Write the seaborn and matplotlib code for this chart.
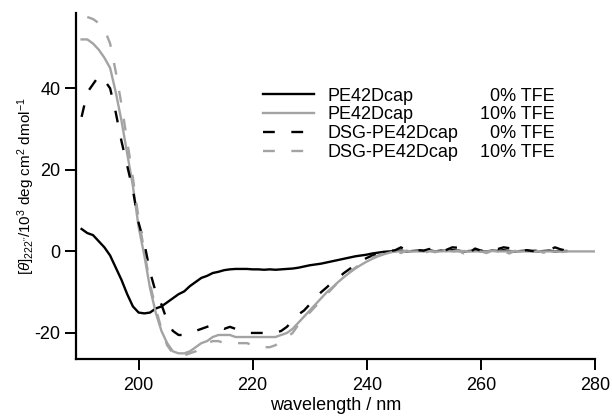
import numpy as np
import pandas as pd
import matplotlib
matplotlib.use("Agg")
import matplotlib.pyplot as plt
import seaborn as sns

# wavelength grid, 1 nm steps
wavelength = list(range(190, 281))

# PE42Dcap, 0% TFE
pe_0 = [5.5, 4.5, 4.0, 2.5, 1.0, -1.0, -4.0, -7.0, -10.5, -13.5,
        -15.0, -15.2, -15.0, -14.0, -13.5, -12.5, -11.5, -10.5, -9.8, -8.5,
        -7.5, -6.5, -6.0, -5.3, -5.0, -4.6, -4.4, -4.3, -4.3, -4.3,
        -4.4, -4.4, -4.5, -4.4, -4.5, -4.4, -4.3, -4.2, -4.0, -3.7,
        -3.4, -3.2, -3.0, -2.7, -2.4, -2.1, -1.8, -1.5, -1.2, -1.0,
        -0.8, -0.5, -0.3, -0.1, 0.0, 0.1, 0.2, 0.0, 0.1, 0.2,
        0.1, 0.3, 0.0, 0.2, 0.1, 0.3, 0.2, 0.0, 0.1, 0.2,
        0.1, 0.0, 0.2, 0.1, 0.3, 0.1, 0.0, 0.1, 0.2, 0.1,
        0.0, 0.1, 0.2, 0.0, 0.1, 0.1, np.nan, np.nan, np.nan, np.nan, np.nan]

# PE42Dcap, 10% TFE
pe_10 = [52, 52, 51, 49.5, 47.5, 45, 39, 32, 24, 16,
         6, -1, -9, -15, -19.5, -22.5, -24.5, -25, -25, -24.5,
         -23.5, -22.5, -22, -21, -20.5, -20.5, -20.5, -21, -21, -21,
         -21, -21, -21, -21, -21, -20.5, -20, -19, -17.5, -16,
         -14.5, -13, -11.5, -10, -8.8, -7.5, -6.3, -5.2, -4.2, -3.3,
         -2.5, -1.8, -1.2, -0.7, -0.3, 0.0, 0.0, 0.1, 0.0, 0.0,
         0.0, 0.1, 0.0, 0.0, 0.1, 0.0, 0.0, 0.1, 0.0, 0.0,
         0.0, 0.0, 0.1, 0.0, 0.0, 0.0, 0.1, 0.0, 0.0, 0.0,
         0.0, 0.0, 0.0, 0.0, 0.0, 0.0, 0.0, 0.0, 0.0, 0.0, 0.0]

# DSG-PE42Dcap, 0% TFE
dsg_0 = [33, 39, 41, 43, 42, 40, 34, 27, 21, 15,
         7, 2, -5, -10, -13, -17, -19.5, -20.5, -20.5, -20,
         -19.5, -19, -18.5, -18, -18.5, -19, -18.5, -19, -19.5, -20,
         -20, -20, -20, -20, -20, -19.5, -18.5, -17, -15.5, -14.5,
         -13, -11.5, -10, -8.8, -7.5, -6.5, -5.3, -4.3, -3.3, -2.4,
         -1.6, -1.0, -0.6, -0.2, 0.1, 0.3, 1.0, 0.2, 0.0, 0.3,
         0.2, 0.6, 0.1, -0.2, 0.4, 1.0, 0.9, 0.2, -0.3, 0.7,
         0.2, 0.1, 1.0, 0.6, 1.0, 0.8, 0.1, 0.0, 0.3, 0.1,
         0.2, 0.0, 0.3, 1.0, 0.5, 0.2, np.nan, np.nan, np.nan, np.nan, np.nan]

# DSG-PE42Dcap, 10% TFE
dsg_10 = [np.nan, 57.5, 57, 56, 54.5, 51, 44, 36, 27, 18,
          8, 0, -8, -14, -19, -23, -25, -26, -25.5, -25,
          -24.5, -23.5, -22.5, -22, -22, -22.5, -22.5, -22.5, -22.5, -22.5,
          -23, -23.5, -23.5, -23.5, -23, -22, -21, -20, -18, -16.5,
          -15, -13.5, -12, -10.5, -9, -7.5, -6.2, -5, -4, -3,
          -2.2, -1.5, -1.0, -0.5, -0.2, 0.0, -0.4, 0.2, -0.3, 0.0,
          -0.5, 0.1, -0.2, 0.3, -0.4, 0.0, 0.2, -0.5, 0.1, -0.3,
          0.0, -0.4, 0.2, -0.2, 0.0, -0.5, 0.1, -0.3, 0.0, -0.2,
          0.1, -0.3, 0.0, 0.2, -0.2, 0.0, np.nan, np.nan, np.nan, np.nan, np.nan]

names = ["PE42Dcap", "PE42Dcap ", "DSG-PE42Dcap", "DSG-PE42Dcap "]
conditions = ["0% TFE", "10% TFE", "0% TFE", "10% TFE"]
series = [pe_0, pe_10, dsg_0, dsg_10]

frames = []
for name, vals in zip(names, series):
    frames.append(pd.DataFrame({"wavelength": wavelength, "theta": vals, "sample": name}))
df = pd.concat(frames).dropna()

plt.rcParams['font.family'] = ['Liberation Sans', 'DejaVu Sans']
plt.rcParams['mathtext.fontset'] = 'custom'
plt.rcParams['mathtext.rm'] = 'Liberation Sans'
plt.rcParams['mathtext.it'] = 'Liberation Sans:italic'
plt.rcParams['axes.unicode_minus'] = False

fig, ax = plt.subplots(figsize=(6.12, 4.17), dpi=100)
fig.subplots_adjust(left=0.124, right=0.972, bottom=0.139, top=0.969)

colors = {names[0]: "black", names[1]: "#a3a3a3", names[2]: "black", names[3]: "#a3a3a3"}
dashes = {names[0]: "", names[1]: "", names[2]: (5, 7), names[3]: (5, 7)}

sns.lineplot(data=df, x="wavelength", y="theta", hue="sample", style="sample",
             palette=colors, dashes=dashes, estimator=None, sort=True,
             linewidth=1.7, ax=ax)

ax.set_xlim(189, 280)
ax.set_ylim(-26.4, 58.5)
ax.set_xticks([200, 220, 240, 260, 280])
ax.set_yticks([-20, 0, 20, 40])
for s in ["top", "right"]:
    ax.spines[s].set_visible(False)
for s in ["left", "bottom"]:
    ax.spines[s].set_linewidth(1.6)
ax.tick_params(direction="out", length=8, width=1.4, labelsize=13, pad=3)
ax.tick_params(axis="x", pad=5)
ax.set_xlabel("wavelength / nm", fontsize=13, labelpad=2)
ax.set_ylabel(r"$[\mathit{\theta}]_{222''}$/10$^3$ deg cm$^2$ dmol$^{-1}$", fontsize=11)
ax.yaxis.set_label_coords(-0.074, 0.5)

handles, labels = ax.get_legend_handles_labels()
leg = ax.legend(handles, [n.strip() for n in names], loc="upper left",
                bbox_to_anchor=(0.43, 0.79), bbox_transform=fig.transFigure,
                frameon=False, fontsize=13, handlelength=2.8, handletextpad=0.75,
                labelspacing=0.1, borderpad=0, borderaxespad=0)
for line in leg.get_lines():
    line.set_linewidth(1.7)

fig.canvas.draw()
inv = fig.transFigure.inverted()
for txt, cond in zip(leg.get_texts(), conditions):
    bb = txt.get_window_extent()
    y = inv.transform((0, (bb.y0 + bb.y1) / 2))[1]
    fig.text(0.907, y, cond, ha="right", va="center", fontsize=13)

plt.savefig("out.png", dpi=100)
